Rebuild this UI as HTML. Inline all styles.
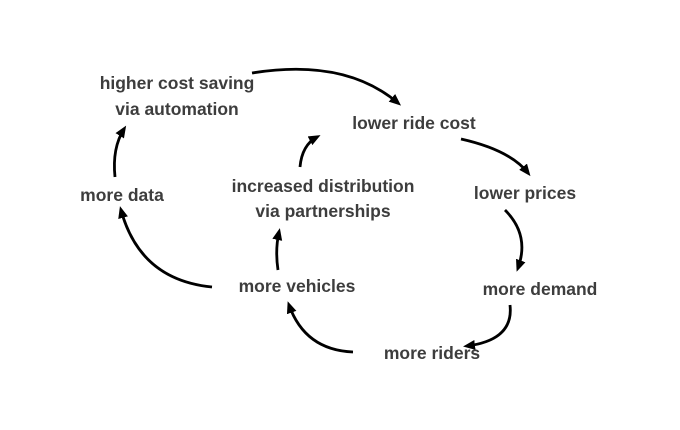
<!DOCTYPE html>
<html><head><style>
html,body{margin:0;padding:0;background:#fff;}
svg{display:block}
text{font-family:"Liberation Sans",sans-serif;font-weight:bold;font-size:17.5px;fill:#3d3d3d;text-anchor:middle}
</style></head><body>
<svg width="680" height="430" viewBox="0 0 680 430">
<defs><marker id="a" markerWidth="14" markerHeight="14" refX="8" refY="5" orient="auto" markerUnits="userSpaceOnUse"><path d="M0,0 L12,5 L0,10 z" fill="#000"/></marker></defs>
<g fill="none" stroke="#000" stroke-width="2.8" marker-end="url(#a)">
<path d="M252,73 Q345,58 398,103"/>
<path d="M461,139 Q510,150 528,173"/>
<path d="M505,210 Q530,235 518,268"/>
<path d="M510,305 Q514,340 467,346"/>
<path d="M353,352 Q305,350 289,305"/>
<path d="M212,287 Q140,280 121,210"/>
<path d="M115,177 Q112,148 124,129"/>
<path d="M278,270 Q275,250 279,232"/>
<path d="M300,167 Q302,145 317,137"/>
</g>
<text x="177" y="89">higher cost saving</text>
<text x="177" y="115">via automation</text>
<text x="414" y="129">lower ride cost</text>
<text x="525" y="199">lower prices</text>
<text x="540" y="295">more demand</text>
<text x="432" y="359">more riders</text>
<text x="297" y="292">more vehicles</text>
<text x="323" y="192">increased distribution</text>
<text x="323" y="217">via partnerships</text>
<text x="122" y="201">more data</text>
</svg>
</body></html>
